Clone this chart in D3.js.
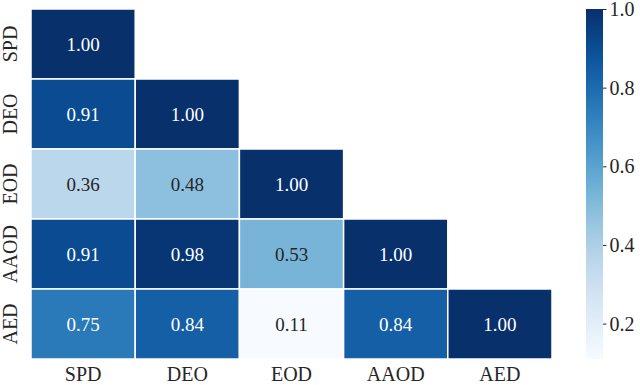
<!DOCTYPE html>
<html>
<head>
<meta charset="utf-8">
<script src="https://cdn.jsdelivr.net/npm/d3@7"></script>
<style>
  body { margin: 0; background: #fff; }
  svg { display: block; font-family: "Liberation Serif", "DejaVu Serif", serif; }
</style>
</head>
<body>
<div id="chart"></div>
<script>
// metric names and lower triangle of the correlation matrix
const metrics = ['SPD', 'DEO', 'EOD', 'AAOD', 'AED'];
const rowSPD = [1.00];
const rowDEO = [0.91, 1.00];
const rowEOD = [0.36, 0.48, 1.00];
const rowAAOD = [0.91, 0.98, 0.53, 1.00];
const rowAED = [0.75, 0.84, 0.11, 0.84, 1.00];
const colorTicks = [0.2, 0.4, 0.6, 0.8, 1.0];

const rows = [rowSPD, rowDEO, rowEOD, rowAAOD, rowAED];
const cells = [];
rows.forEach((r, i) => r.forEach((v, j) => cells.push({ row: metrics[i], col: metrics[j], value: v })));

const width = 640, height = 385;
const margin = { top: 9, left: 31, right: 88, bottom: 26 };

const svg = d3.select('#chart')
    .append('svg')
    .attr('width', width)
    .attr('height', height);

const x = d3.scaleBand()
    .domain(metrics)
    .range([margin.left, width - margin.right]);

const y = d3.scaleBand()
    .domain(metrics)
    .range([margin.top, height - margin.bottom]);

const vmin = d3.min(cells, d => d.value), vmax = d3.max(cells, d => d.value);
const color = d3.scaleSequential(d3.interpolateBlues).domain([vmin, vmax]);

function textColor(c) {
    const rgb = d3.rgb(c);
    const lin = v => { v /= 255; return v <= 0.03928 ? v / 12.92 : Math.pow((v + 0.055) / 1.055, 2.4); };
    const lum = 0.2126 * lin(rgb.r) + 0.7152 * lin(rgb.g) + 0.0722 * lin(rgb.b);
    return lum > 0.408 ? '#262626' : '#ffffff';
}

const g = svg.append('g');

g.selectAll('rect')
    .data(cells)
    .enter()
    .append('rect')
    .attr('x', d => x(d.col))
    .attr('y', d => y(d.row))
    .attr('width', x.bandwidth())
    .attr('height', y.bandwidth())
    .attr('fill', d => color(d.value))
    .attr('stroke', '#fff')
    .attr('stroke-width', 1.5);

g.selectAll('text.annot')
    .data(cells)
    .enter()
    .append('text')
    .attr('class', 'annot')
    .attr('x', d => x(d.col) + x.bandwidth() / 2)
    .attr('y', d => y(d.row) + y.bandwidth() / 2)
    .attr('text-anchor', 'middle')
    .attr('dominant-baseline', 'central')
    .attr('font-size', 19)
    .attr('fill', d => textColor(color(d.value)))
    .text(d => d.value.toFixed(2));

// bottom axis labels
const xAxis = d3.axisBottom(x).tickSize(0).tickPadding(0);
svg.append('g')
    .attr('transform', `translate(0, ${height - margin.bottom})`)
    .call(xAxis)
    .attr('font-family', null)
    .attr('font-size', null)
    .call(s => s.select('.domain').remove())
    .call(s => s.selectAll('text')
        .attr('font-size', 20)
        .attr('fill', '#262626')
        .attr('y', 22)
        .attr('dy', 0));

// left axis labels, rotated
const yAxis = d3.axisLeft(y).tickSize(0).tickPadding(14);
svg.append('g')
    .attr('transform', `translate(${margin.left}, 0)`)
    .call(yAxis)
    .attr('font-family', null)
    .attr('font-size', null)
    .call(s => s.select('.domain').remove())
    .call(s => s.selectAll('text')
        .attr('font-size', 20)
        .attr('fill', '#262626')
        .attr('transform', 'rotate(-90)')
        .attr('x', 0)
        .attr('y', -14)
        .attr('dy', 0)
        .attr('text-anchor', 'middle'));

// colorbar
const cbX = 586, cbW = 17;
const cbScale = d3.scaleLinear()
    .domain([vmin, vmax])
    .range([height - margin.bottom, margin.top]);

const defs = svg.append('defs');
const grad = defs.append('linearGradient')
    .attr('id', 'cbgrad')
    .attr('x1', 0).attr('y1', 1).attr('x2', 0).attr('y2', 0);
d3.range(0, 1.0001, 0.05).forEach(t => {
    grad.append('stop')
        .attr('offset', t)
        .attr('stop-color', d3.interpolateBlues(t));
});

svg.append('rect')
    .attr('x', cbX)
    .attr('y', margin.top)
    .attr('width', cbW)
    .attr('height', height - margin.bottom - margin.top)
    .attr('fill', 'url(#cbgrad)');

const cAxis = d3.axisRight(cbScale)
    .tickValues(colorTicks)
    .tickFormat(d3.format('.1f'))
    .tickSize(3.5)
    .tickPadding(3);

svg.append('g')
    .attr('transform', `translate(${cbX + cbW}, 0)`)
    .call(cAxis)
    .attr('font-family', null)
    .attr('font-size', null)
    .call(s => s.select('.domain').remove())
    .call(s => s.selectAll('line').attr('stroke', '#262626'))
    .call(s => s.selectAll('text').attr('font-size', 20).attr('fill', '#262626'));
</script>
</body>
</html>
